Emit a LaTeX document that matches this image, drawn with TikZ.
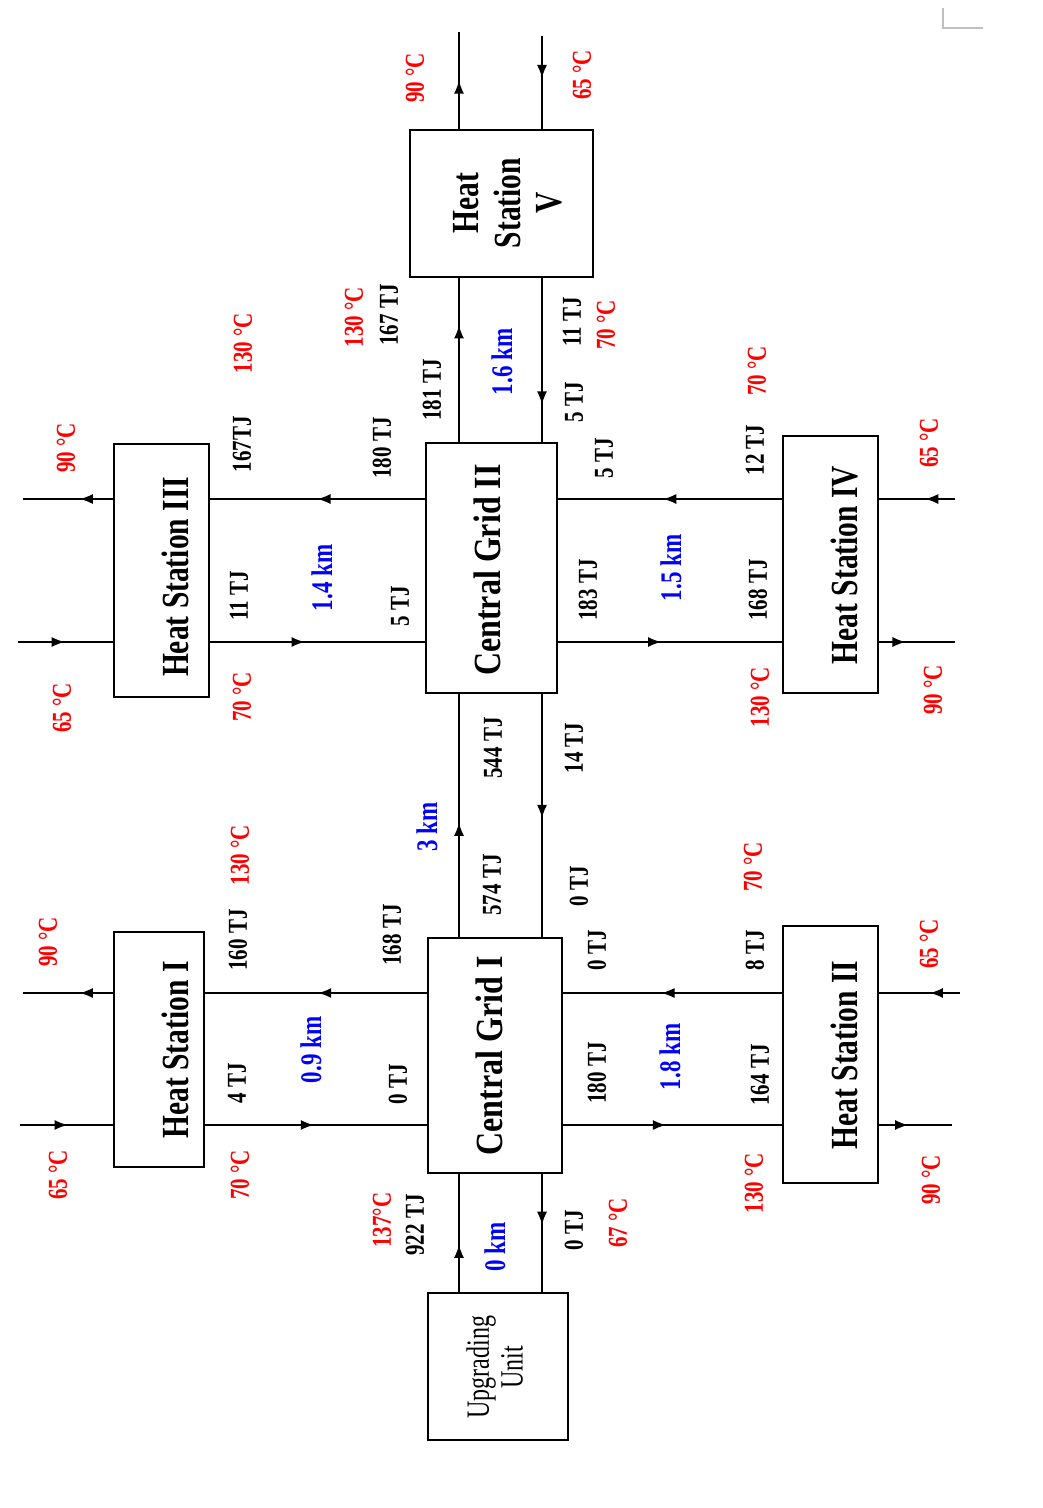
\documentclass[tikz,border=0pt]{standalone}
\usepackage{fontspec}
\setmainfont{Liberation Serif}
\usetikzlibrary{arrows.meta,calc}
\newcommand{\stretchtxt}[2][1.3]{\scalebox{1}[#1]{#2}}
\newcommand{\flowline}[3]{%
  \draw[pipe] (#1) -- (#2);
  \draw[pipe, -{Latex[length=13pt,width=10pt]}] (#1) -- ($(#1)!#3!(#2)$);}
\tikzset{
  box/.style={draw, line width=1.6pt, inner sep=0pt, fill=white},
  pipe/.style={line width=1.4pt},
  tjl/.style={inner sep=0pt, rotate=90, font=\fontsize{21}{22}\selectfont\bfseries, text=black},
  tcl/.style={inner sep=0pt, rotate=90, font=\fontsize{21}{22}\selectfont\bfseries, text=red},
  kml/.style={inner sep=0pt, rotate=90, font=\fontsize{23}{24}\selectfont\bfseries, text=blue},
  hslbl/.style={inner sep=0pt, rotate=90, font=\fontsize{29.5}{32}\selectfont\bfseries},
  cglbl/.style={inner sep=0pt, rotate=90, font=\fontsize{32}{34}\selectfont\bfseries},
}
\begin{document}
\begin{tikzpicture}[x=1pt,y=-1pt]
\useasboundingbox (0,0) rectangle (1042,1508);
\fill[white] (0,0) rectangle (1042,1508);
\draw[black!25, line width=1.2pt] (943,8) -- (943,28) -- (983,28);

% boxes
\node[box, minimum width=183pt, minimum height=147pt] (hs5) at (501.5,203.5) {};
\node[box, minimum width=131pt, minimum height=250pt] (cg2) at (491.5,568) {};
\node[box, minimum width=95pt, minimum height=253pt] (hs3) at (161.5,570.5) {};
\node[box, minimum width=95pt, minimum height=257pt] (hs4) at (830.5,564.5) {};
\node[box, minimum width=90pt, minimum height=235pt] (hs1) at (159,1049.5) {};
\node[box, minimum width=134pt, minimum height=235pt] (cg1) at (495,1055.5) {};
\node[box, minimum width=95pt, minimum height=257pt] (hs2) at (830.5,1054.5) {};
\node[box, minimum width=140pt, minimum height=147pt] (uu) at (498,1366.5) {};

% box labels
\node[hslbl] (hs5t) at (512,203) {\stretchtxt{\begin{tabular}{@{}c@{}}Heat\\Station\\V\end{tabular}}};
\node[cglbl] (cg2t) at (487.5,570) {\stretchtxt[1.2]{Central Grid II}};
\node[cglbl] (cg1t) at (489.5,1056) {\stretchtxt[1.2]{Central Grid I}};
\node[hslbl] (hs3t) at (175.5,577) {\stretchtxt{Heat Station III}};
\node[hslbl] (hs1t) at (175.5,1050) {\stretchtxt{Heat Station I}};
\node[hslbl] (hs4t) at (844.5,565) {\stretchtxt{Heat Station IV}};
\node[hslbl] (hs2t) at (844.5,1055) {\stretchtxt{Heat Station II}};
\node[inner sep=0pt, rotate=90, font=\fontsize{24}{25}\selectfont] (uut) at (499,1367) {\stretchtxt[1.35]{\begin{tabular}{@{}c@{}}Upgrading\\Unit\end{tabular}}};

% helper coordinates
\coordinate (vl) at (459,0);
\coordinate (vr) at (542,0);
\coordinate (hu1) at (0,499);
\coordinate (hd1) at (0,642);
\coordinate (hu2) at (0,993);
\coordinate (hd2) at (0,1125);
\coordinate (t1) at (459,32);
\coordinate (t2) at (542,36);
\coordinate (e1) at (23,499);
\coordinate (e2) at (18,642);
\coordinate (e3) at (955,499);
\coordinate (e4) at (955,642);
\coordinate (e5) at (23,993);
\coordinate (e6) at (20,1125);
\coordinate (e7) at (960,993);
\coordinate (e8) at (952,1125);

% connectors
\flowline{hs5.north -| vl}{t1}{0.5}
\flowline{t2}{hs5.north -| vr}{0.45}
\flowline{cg2.north -| vl}{hs5.south -| vl}{0.71}
\flowline{hs5.south -| vr}{cg2.north -| vr}{0.77}
\flowline{cg2.west |- hu1}{hs3.east |- hu1}{0.5}
\flowline{hs3.east |- hd1}{cg2.west |- hd1}{0.44}
\flowline{hs3.west |- hu1}{e1}{0.37}
\flowline{e2}{hs3.west |- hd1}{0.49}
\flowline{hs4.west |- hu1}{cg2.east |- hu1}{0.53}
\flowline{cg2.east |- hd1}{hs4.west |- hd1}{0.46}
\flowline{e3}{hs4.east |- hu1}{0.39}
\flowline{hs4.east |- hd1}{e4}{0.35}
\flowline{cg1.north -| vl}{cg2.south -| vl}{0.47}
\flowline{cg2.south -| vr}{cg1.north -| vr}{0.51}
\flowline{cg1.west |- hu2}{hs1.east |- hu2}{0.49}
\flowline{hs1.east |- hd2}{cg1.west |- hd2}{0.49}
\flowline{hs1.west |- hu2}{e5}{0.37}
\flowline{e6}{hs1.west |- hd2}{0.51}
\flowline{hs2.west |- hu2}{cg1.east |- hu2}{0.55}
\flowline{cg1.east |- hd2}{hs2.west |- hd2}{0.47}
\flowline{e7}{hs2.east |- hu2}{0.37}
\flowline{hs2.east |- hd2}{e8}{0.4}
\flowline{uu.north -| vl}{cg1.south -| vl}{0.4}
\flowline{cg1.south -| vr}{uu.north -| vr}{0.43}

% labels: top
\node[tcl] (a1) at (415,78) {\stretchtxt{90 °C}};
\node[tcl] (a2) at (582,75) {\stretchtxt{65 °C}};
% HS V - CG II
\node[tcl] (b1) at (354,317) {\stretchtxt{130 °C}};
\node[tjl] (b2) at (389,315) {\stretchtxt{167 TJ}};
\node[tjl] (b3) at (432,390) {\stretchtxt{181 TJ}};
\node[kml] (b4) at (502,362) {\stretchtxt{1.6 km}};
\node[tjl] (b5) at (572,322) {\stretchtxt{11 TJ}};
\node[tcl] (b6) at (606,325) {\stretchtxt{70 °C}};
\node[tjl] (b7) at (574,402) {\stretchtxt{5 TJ}};
% HS III
\node[tcl] (c1) at (66,448) {\stretchtxt{90 °C}};
\node[tcl] (c2) at (243,343) {\stretchtxt{130 °C}};
\node[tjl] (c3) at (242,444) {\stretchtxt{167TJ}};
\node[tjl] (c4) at (382,448) {\stretchtxt{180 TJ}};
\node[kml] (c5) at (322,578) {\stretchtxt{1.4 km}};
\node[tjl] (c6) at (239,596) {\stretchtxt{11 TJ}};
\node[tjl] (c7) at (400,606) {\stretchtxt{5 TJ}};
\node[tcl] (c8) at (242,697) {\stretchtxt{70 °C}};
\node[tcl] (c9) at (62,708) {\stretchtxt{65 °C}};
% HS IV
\node[tjl] (d1) at (604,458) {\stretchtxt{5 TJ}};
\node[tjl] (d2) at (755,450) {\stretchtxt{12 TJ}};
\node[tcl] (d3) at (757,371) {\stretchtxt{70 °C}};
\node[tcl] (d4) at (929,443) {\stretchtxt{65 °C}};
\node[tjl] (d5) at (588,590) {\stretchtxt{183 TJ}};
\node[kml] (d6) at (671,568) {\stretchtxt{1.5 km}};
\node[tjl] (d7) at (758,590) {\stretchtxt{168 TJ}};
\node[tcl] (d8) at (760,697) {\stretchtxt{130 °C}};
\node[tcl] (d9) at (933,690) {\stretchtxt{90 °C}};
% CG II - CG I
\node[tjl] (f1) at (493,748) {\stretchtxt{544 TJ}};
\node[tjl] (f2) at (574,748) {\stretchtxt{14 TJ}};
\node[kml] (f3) at (427,827) {\stretchtxt{3 km}};
\node[tjl] (f4) at (492,885) {\stretchtxt{574 TJ}};
\node[tjl] (f5) at (579,886) {\stretchtxt{0 TJ}};
% HS I
\node[tcl] (g1) at (48,942) {\stretchtxt{90 °C}};
\node[tcl] (g2) at (240,855) {\stretchtxt{130 °C}};
\node[tjl] (g3) at (238,940) {\stretchtxt{160 TJ}};
\node[tjl] (g4) at (392,935) {\stretchtxt{168 TJ}};
\node[kml] (g5) at (311,1050) {\stretchtxt{0.9 km}};
\node[tjl] (g6) at (237,1083) {\stretchtxt{4 TJ}};
\node[tjl] (g7) at (398,1084) {\stretchtxt{0 TJ}};
\node[tcl] (g8) at (240,1175) {\stretchtxt{70 °C}};
\node[tcl] (g9) at (58,1175) {\stretchtxt{65 °C}};
% HS II
\node[tcl] (h1) at (753,867) {\stretchtxt{70 °C}};
\node[tjl] (h2) at (597,950) {\stretchtxt{0 TJ}};
\node[tjl] (h3) at (755,950) {\stretchtxt{8 TJ}};
\node[tjl] (h4) at (597,1073) {\stretchtxt{180 TJ}};
\node[kml] (h5) at (670,1057) {\stretchtxt{1.8 km}};
\node[tjl] (h6) at (760,1075) {\stretchtxt{164 TJ}};
\node[tcl] (h7) at (929,944) {\stretchtxt{65 °C}};
\node[tcl] (h8) at (754,1183) {\stretchtxt{130 °C}};
\node[tcl] (h9) at (931,1180) {\stretchtxt{90 °C}};
% Upgrading Unit
\node[tcl] (k1) at (382,1220) {\stretchtxt{137°C}};
\node[tjl] (k2) at (415,1225) {\stretchtxt{922 TJ}};
\node[kml] (k3) at (495,1247) {\stretchtxt{0 km}};
\node[tjl] (k4) at (574,1230) {\stretchtxt{0 TJ}};
\node[tcl] (k5) at (618,1223) {\stretchtxt{67 °C}};
\end{tikzpicture}
\end{document}
